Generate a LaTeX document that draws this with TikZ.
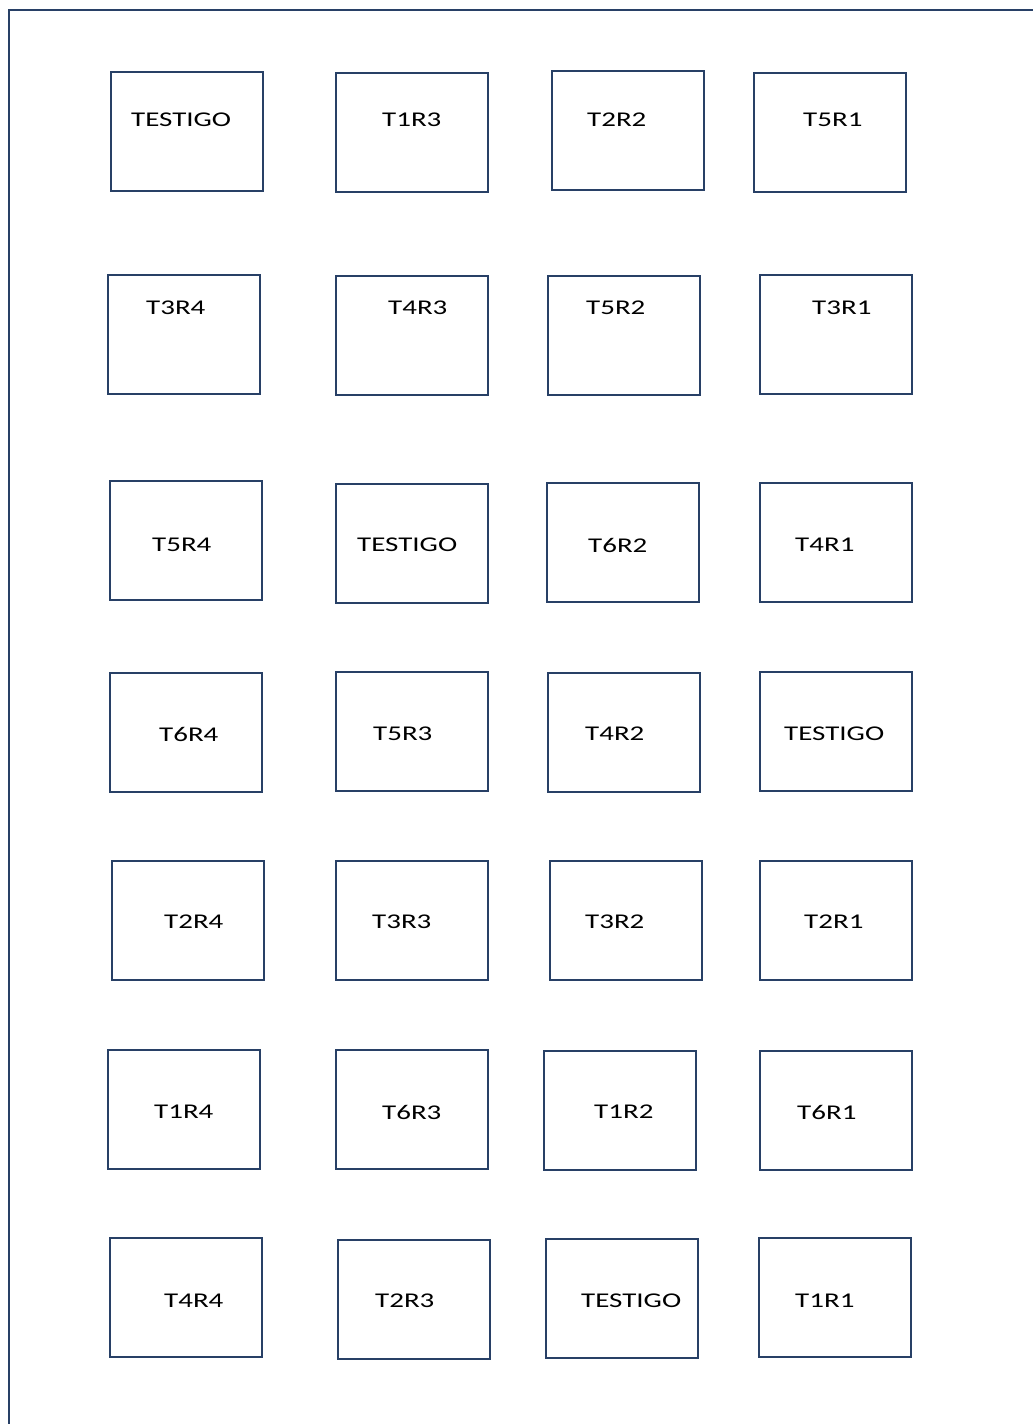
\documentclass[tikz,border=0pt]{standalone}
\usepackage{fontspec}
\setmainfont{Carlito}[FakeStretch=1.38]
\usepackage{tikz}
\usetikzlibrary{positioning}
\definecolor{plotline}{RGB}{40,64,102}

% one plot: name, top-left x, top-left y, label x, label y, label
\newcommand{\plotbox}[6]{%
  \node[plot] (#1) at (#2,#3) {};
  \node[plotlbl] (#1-lbl) at (#4,#5) {#6};
}

\begin{document}
\begin{tikzpicture}[
    x=1pt, y=-1pt,
    plot/.style={rectangle, draw=plotline, line width=2pt, anchor=north west, minimum width=152pt, minimum height=119pt, inner sep=0pt},
    plotlbl/.style={anchor=west, inner sep=0pt, font=\fontsize{21}{25}\selectfont}
]
\useasboundingbox (0,0) rectangle (1033,1424);
\coordinate (fieldbl) at (9,1424);
\coordinate (fieldtl) at (9,10);
\coordinate (fieldtr) at (1033,10);
\draw[plotline, line width=2.5pt] (fieldbl) -- (fieldtl) -- (fieldtr);

% row 1
\plotbox{a1}{110}{71}{131}{120}{TESTIGO}
\plotbox{a2}{335}{72}{382}{120}{T1R3}
\plotbox{a3}{551}{70}{587}{120}{T2R2}
\plotbox{a4}{753}{72}{803}{120}{T5R1}
% row 2
\plotbox{b1}{107}{274}{146}{308}{T3R4}
\plotbox{b2}{335}{275}{388}{308}{T4R3}
\plotbox{b3}{547}{275}{586}{308}{T5R2}
\plotbox{b4}{759}{274}{812}{308}{T3R1}
% row 3
\plotbox{c1}{109}{480}{152}{545}{T5R4}
\plotbox{c2}{335}{483}{357}{545}{TESTIGO}
\plotbox{c3}{546}{482}{588}{545}{T6R2}
\plotbox{c4}{759}{482}{795}{545}{T4R1}
% row 4
\plotbox{d1}{109}{672}{159}{734}{T6R4}
\plotbox{d2}{335}{671}{373}{734}{T5R3}
\plotbox{d3}{547}{672}{585}{734}{T4R2}
\plotbox{d4}{759}{671}{784}{734}{TESTIGO}
% row 5
\plotbox{e1}{111}{860}{164}{922}{T2R4}
\plotbox{e2}{335}{860}{372}{922}{T3R3}
\plotbox{e3}{549}{860}{585}{922}{T3R2}
\plotbox{e4}{759}{860}{804}{922}{T2R1}
% row 6
\plotbox{f1}{107}{1049}{154}{1112}{T1R4}
\plotbox{f2}{335}{1049}{382}{1112}{T6R3}
\plotbox{f3}{543}{1050}{594}{1112}{T1R2}
\plotbox{f4}{759}{1050}{797}{1112}{T6R1}
% row 7
\plotbox{g1}{109}{1237}{164}{1301}{T4R4}
\plotbox{g2}{337}{1239}{375}{1301}{T2R3}
\plotbox{g3}{545}{1238}{581}{1301}{TESTIGO}
\plotbox{g4}{758}{1237}{795}{1301}{T1R1}
\end{tikzpicture}
\end{document}
